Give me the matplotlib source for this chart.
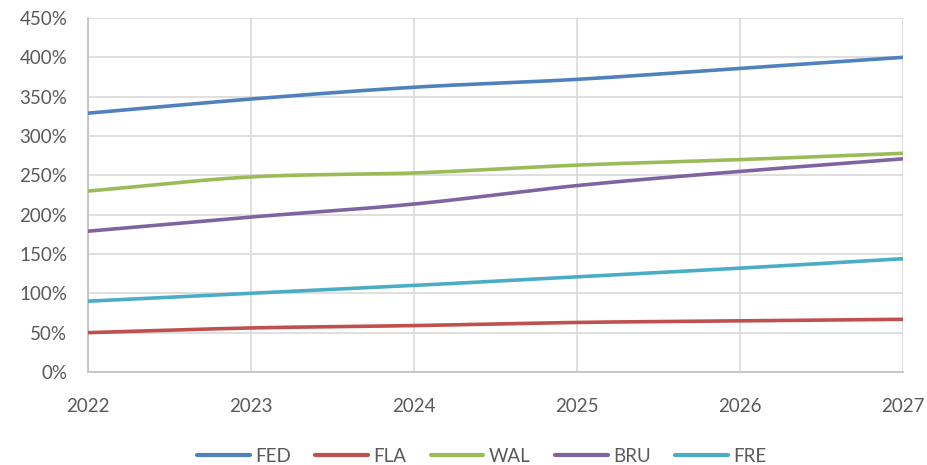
import numpy as np
import matplotlib
matplotlib.use("Agg")
import matplotlib.pyplot as plt
from matplotlib.ticker import FuncFormatter

years = [2022, 2023, 2024, 2025, 2026, 2027]
series_names = ["FED", "FLA", "WAL", "BRU", "FRE"]
fed = [3.29, 3.47, 3.62, 3.72, 3.86, 4.00]
fla = [0.50, 0.56, 0.59, 0.63, 0.65, 0.67]
wal = [2.30, 2.48, 2.53, 2.63, 2.70, 2.78]
bru = [1.79, 1.97, 2.135, 2.37, 2.55, 2.71]
fre = [0.90, 1.00, 1.10, 1.21, 1.32, 1.44]
colors = ["#4F81BD", "#C0504D", "#9BBB59", "#8064A2", "#4BACC6"]
yticks = [0, 0.5, 1.0, 1.5, 2.0, 2.5, 3.0, 3.5, 4.0, 4.5]

plt.rcParams['font.family'] = ['Lato', 'DejaVu Sans']


def smooth(x, y, n=30):
    # Catmull-Rom style smoothing (Excel "smoothed line" look)
    x = np.asarray(x, float)
    y = np.asarray(y, float)
    px = np.concatenate([[2 * x[0] - x[1]], x, [2 * x[-1] - x[-2]]])
    py = np.concatenate([[2 * y[0] - y[1]], y, [2 * y[-1] - y[-2]]])
    xs, ys = [], []
    for i in range(1, len(px) - 2):
        t = np.linspace(0, 1, n, endpoint=(i == len(px) - 3))
        p0, p1, p2, p3 = py[i - 1], py[i], py[i + 1], py[i + 2]
        q0, q1, q2, q3 = px[i - 1], px[i], px[i + 1], px[i + 2]
        def cr(a0, a1, a2, a3):
            return 0.5 * ((2 * a1) + (-a0 + a2) * t + (2 * a0 - 5 * a1 + 4 * a2 - a3) * t ** 2
                          + (-a0 + 3 * a1 - 3 * a2 + a3) * t ** 3)
        xs.append(cr(q0, q1, q2, q3))
        ys.append(cr(p0, p1, p2, p3))
    return np.concatenate(xs), np.concatenate(ys)


fig = plt.figure(figsize=(9.28, 4.65), dpi=100)
ax = fig.add_axes([88 / 928, 1 - 372 / 465, (903 - 88) / 928, (372 - 18) / 465])

for name, vals, c in zip(series_names, [fed, fla, wal, bru, fre], colors):
    sx, sy = smooth(years, vals)
    ax.plot(sx, sy, color=c, lw=2.6, label=name, solid_capstyle='round', zorder=3)

ax.set_xlim(2022, 2027)
ax.set_ylim(0, 4.5)
ax.set_yticks(yticks)
ax.set_xticks(years)
ax.yaxis.set_major_formatter(FuncFormatter(lambda v, p: f"{v * 100:.0f}%"))
ax.grid(True, color="#D9D9D9", lw=1.2, zorder=0)
for s in ["top", "right"]:
    ax.spines[s].set_visible(False)
ax.spines["left"].set_color("#BFBFBF")
ax.spines["bottom"].set_color("#BFBFBF")
ax.spines["left"].set_linewidth(1.2)
ax.spines["bottom"].set_linewidth(1.2)
ax.tick_params(axis='both', length=0, labelsize=13.5, labelcolor="#595959")
ax.tick_params(axis='x', pad=19)
ax.tick_params(axis='y', pad=15)

leg = fig.legend(loc='center', bbox_to_anchor=(482 / 928, 1 - 456 / 465), ncol=5, frameon=False,
                 fontsize=13.5, handlelength=2.8, columnspacing=1.3, handletextpad=0.3)
for t in leg.get_texts():
    t.set_color("#595959")
for l in leg.get_lines():
    l.set_linewidth(3.0)

fig.savefig("out.png", dpi=100)
